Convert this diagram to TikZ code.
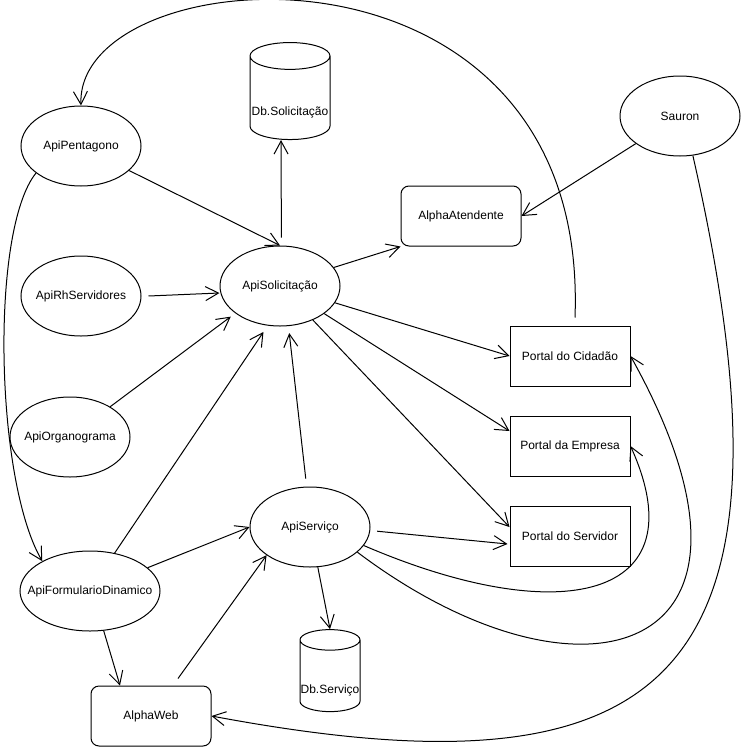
\documentclass[tikz,border=0pt]{standalone}
\usepackage{fontspec}
\setmainfont{Liberation Sans}
\usetikzlibrary{shapes.geometric,arrows.meta}

\begin{document}
\begin{tikzpicture}[x=1pt,y=-1pt,line width=1pt,font=\fontsize{12}{14}\selectfont,
  api/.style={draw,ellipse,minimum width=120pt,minimum height=80pt,inner sep=0pt,inner xsep=-40pt},
  portal/.style={draw,rectangle,minimum width=120pt,minimum height=60pt},
  app/.style={portal,rounded corners=8pt},
  db/.style={draw,cylinder,shape border rotate=90,aspect=0.35,inner sep=0pt,text height=38pt},
  flow/.style={-{Straight Barb[length=13pt,width=14pt]}}]
\useasboundingbox (0,0) rectangle (743,750);
\node[api] (pent) at (81,146) {ApiPentagono};
\node[api] (rh) at (81,296) {ApiRhServidores};
\node[api] (org) at (70,437) {ApiOrganograma};
\node[api,minimum width=140pt] (form) at (90,591) {ApiFormularioDinamico};
\node[api] (sol) at (280,286) {ApiSolicitação};
\node[api] (serv) at (310,527) {ApiServiço};
\node[api] (sauron) at (680,116) {Sauron};
\node[db,minimum width=80pt,minimum height=97pt] (dbsol) at (290,98) {Db.Solicitação};
\node[db,minimum width=60pt,minimum height=82pt] (dbserv) at (330,676) {Db.Serviço};
\node[app] (atend) at (461,216) {AlphaAtendente};
\node[app] (web) at (151,716) {AlphaWeb};
\node[portal] (cid) at (570,356) {Portal do Cidadão};
\node[portal] (emp) at (570,446) {Portal da Empresa};
\node[portal] (ps) at (570,536) {Portal do Servidor};

\draw[flow] ([xshift=5pt,yshift=8pt]cid.north) .. controls (590,-84) and (75,-44) .. (pent.north);
\draw[flow] (pent.-27) -- (sol.90);
\draw[flow] ([yshift=8pt]sol.88) -- ([xshift=-9pt]dbsol.south);
\draw[flow] (pent.-149) .. controls (-10,230) and (-5,480) .. (form.148);
\draw[flow] ([xshift=7pt]rh.east) -- ([yshift=-7pt]sol.west);
\draw[flow] (org.37) -- ([shift={(-5pt,-3pt)}]sol.-148);
\draw[flow] (form.57) -- ([yshift=-7pt]sol.-113);
\draw[flow] ([yshift=8pt]serv.96) -- ([yshift=-7pt]sol.-77);
\draw[flow] (sol.19) -- (atend.south west);
\draw[flow] (sauron.-148) -- (atend.east);
\draw[flow] (sol.-17) -- (cid.west);
\draw[flow] (sol.-32) -- ([yshift=15pt]emp.west);
\draw[flow] (sol.-46) -- ([yshift=9pt]ps.west);
\draw[flow] ([xshift=7pt]serv.-4) -- ([shift={(-2pt,-8pt)}]ps.west);
\draw[flow] (serv.-19) .. controls (560,630) and (700,600) .. (emp.east);
\draw[flow] (serv.-28) .. controls (580,720) and (800,660) .. (cid.east);
\draw[flow] (sauron.-72) .. controls (815,690) and (660,800) .. (web.east);
\draw[flow] (form.22) -- (serv.west);
\draw[flow] (form.-71) -- ([xshift=-31pt]web.north);
\draw[flow] ([shift={(27pt,7pt)}]web.north) -- (serv.-147);
\draw[flow] (serv.-79) -- (dbserv.north);
\end{tikzpicture}
\end{document}
